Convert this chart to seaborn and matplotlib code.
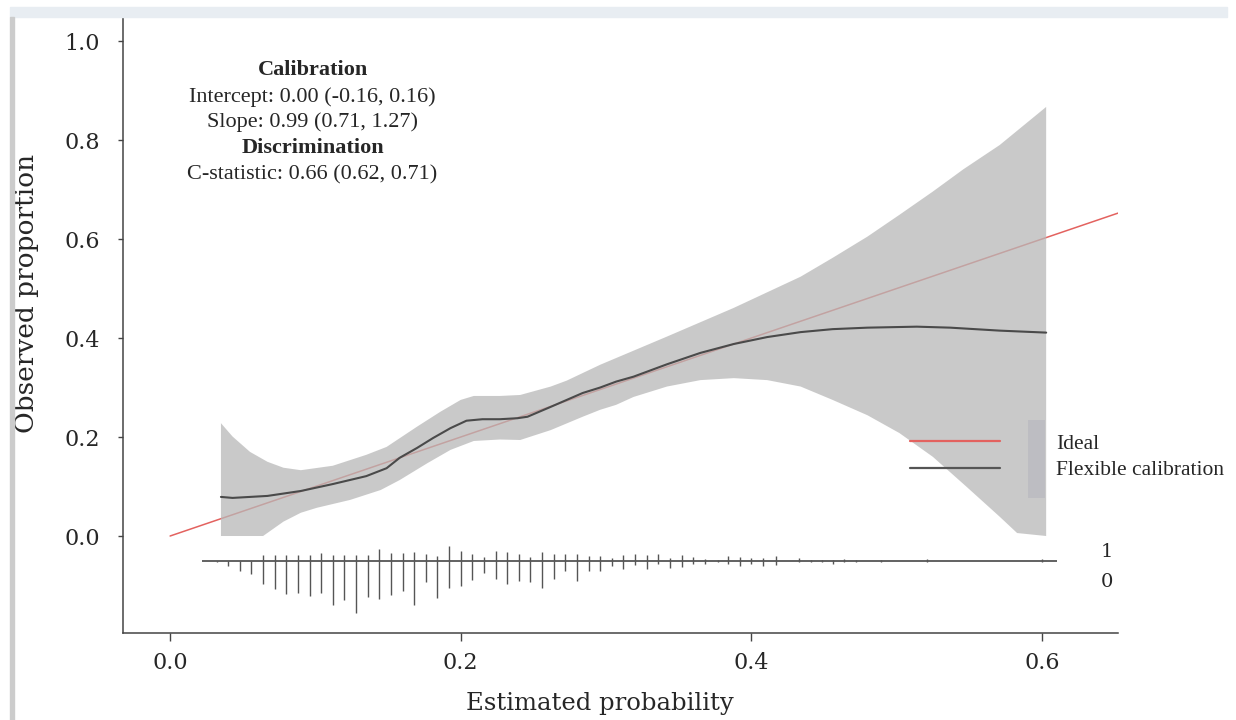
import matplotlib
matplotlib.use("Agg")
import matplotlib.pyplot as plt
import seaborn as sns
from matplotlib.lines import Line2D
from matplotlib.patches import Rectangle

# ideal (diagonal) line
ideal_x = [0.0, 0.66]
ideal_y = [0.0, 0.66]

# flexible calibration curve
curve_x = [0.035, 0.043, 0.067, 0.090, 0.112, 0.135, 0.149, 0.158, 0.170, 0.181,
           0.193, 0.204, 0.215, 0.227, 0.239, 0.246, 0.262, 0.284, 0.296, 0.307,
           0.319, 0.342, 0.365, 0.388, 0.411, 0.434, 0.456, 0.480, 0.514, 0.537,
           0.571, 0.603]
curve_y = [0.079, 0.077, 0.081, 0.091, 0.105, 0.121, 0.137, 0.158, 0.178, 0.198,
           0.218, 0.233, 0.236, 0.236, 0.238, 0.241, 0.261, 0.289, 0.300, 0.312,
           0.322, 0.347, 0.370, 0.388, 0.402, 0.412, 0.418, 0.421, 0.423, 0.421,
           0.415, 0.411]

# confidence band
band_upper_x = [0.035, 0.043, 0.055, 0.067, 0.078, 0.090, 0.112, 0.135, 0.149, 0.170,
                0.186, 0.200, 0.209, 0.227, 0.241, 0.262, 0.273, 0.296, 0.342, 0.388,
                0.434, 0.456, 0.480, 0.502, 0.525, 0.546, 0.571, 0.603]
band_upper_y = [0.228, 0.201, 0.170, 0.150, 0.138, 0.133, 0.142, 0.164, 0.180, 0.221,
                0.251, 0.275, 0.283, 0.283, 0.285, 0.302, 0.314, 0.346, 0.403, 0.461,
                0.524, 0.562, 0.605, 0.649, 0.696, 0.741, 0.790, 0.867]
band_lower_x = [0.035, 0.064, 0.078, 0.090, 0.101, 0.124, 0.145, 0.158, 0.177, 0.193,
                0.209, 0.227, 0.241, 0.262, 0.284, 0.296, 0.307, 0.319, 0.342, 0.365,
                0.388, 0.411, 0.434, 0.456, 0.480, 0.502, 0.525, 0.548, 0.571, 0.583,
                0.603]
band_lower_y = [0.000, 0.000, 0.029, 0.047, 0.057, 0.073, 0.093, 0.113, 0.147, 0.174,
                0.192, 0.195, 0.194, 0.214, 0.241, 0.255, 0.265, 0.281, 0.302, 0.315,
                0.319, 0.315, 0.302, 0.275, 0.244, 0.208, 0.160, 0.100, 0.039, 0.006,
                0.000]

# distribution of predictions: spikes up for events (1), down for non-events (0)
rug_x = [0.032, 0.040, 0.048, 0.056, 0.064, 0.072, 0.080, 0.088, 0.096, 0.104,
         0.112, 0.120, 0.128, 0.136, 0.144, 0.152, 0.160, 0.168, 0.176, 0.184,
         0.192, 0.200, 0.208, 0.216, 0.224, 0.232, 0.240, 0.248, 0.256, 0.264,
         0.272, 0.280, 0.288, 0.296, 0.304, 0.312, 0.320, 0.328, 0.336, 0.344,
         0.352, 0.360, 0.368, 0.377, 0.384, 0.392, 0.400, 0.408, 0.417, 0.433,
         0.441, 0.449, 0.456, 0.464, 0.472, 0.489, 0.521, 0.600]
rug_up = [0.000, 0.000, 0.000, 0.000, 0.012, 0.012, 0.011, 0.011, 0.012, 0.016,
          0.012, 0.012, 0.012, 0.011, 0.023, 0.016, 0.016, 0.018, 0.014, 0.009,
          0.030, 0.020, 0.014, 0.007, 0.020, 0.018, 0.014, 0.007, 0.018, 0.014,
          0.014, 0.014, 0.009, 0.009, 0.006, 0.011, 0.014, 0.012, 0.014, 0.006,
          0.011, 0.007, 0.004, 0.002, 0.009, 0.008, 0.006, 0.005, 0.009, 0.006,
          0.002, 0.002, 0.002, 0.004, 0.002, 0.002, 0.004, 0.004]
rug_down = [0.002, 0.011, 0.020, 0.027, 0.046, 0.057, 0.067, 0.066, 0.072, 0.065,
            0.089, 0.079, 0.105, 0.074, 0.077, 0.069, 0.062, 0.089, 0.043, 0.076,
            0.055, 0.051, 0.039, 0.025, 0.037, 0.046, 0.040, 0.043, 0.055, 0.037,
            0.020, 0.040, 0.020, 0.021, 0.011, 0.016, 0.009, 0.016, 0.007, 0.014,
            0.013, 0.006, 0.006, 0.002, 0.006, 0.011, 0.006, 0.010, 0.008, 0.002,
            0.002, 0.003, 0.006, 0.003, 0.002, 0.002, 0.003, 0.003]
rug_base = -0.05
rug_span = [0.022, 0.6105]

x_ticks = [0.0, 0.2, 0.4, 0.6]
y_ticks = [0.0, 0.2, 0.4, 0.6, 0.8, 1.0]

stats_lines = [
    ("Calibration", "bold"),
    ("Intercept: 0.00 (-0.16, 0.16)", "normal"),
    ("Slope: 0.99 (0.71, 1.27)", "normal"),
    ("Discrimination", "bold"),
    ("C-statistic: 0.66 (0.62, 0.71)", "normal"),
]
legend_labels = ["Ideal", "Flexible calibration"]

RED = "#e3625f"
DARK = "#4a4a4a"
SERIF_T = ["Liberation Serif", "DejaVu Serif"]
SERIF_D = ["DejaVu Serif"]


def main():
    sns.set_style("ticks")
    plt.rcParams["font.family"] = SERIF_T

    fig = plt.figure(figsize=(12.36, 7.2), dpi=100)
    ax = fig.add_axes([0.0993, 0.1215, 0.8053, 0.8544])

    # screenshot frame bits
    fig.patches.append(Rectangle((10 / 1236, 703 / 720), 1217 / 1236, 10 / 720,
                                 transform=fig.transFigure, color="#e8edf2", zorder=0))
    fig.patches.append(Rectangle((10 / 1236, 0), 4 / 1236, 703 / 720,
                                 transform=fig.transFigure, color="#cccccc", zorder=0))

    sns.lineplot(x=ideal_x, y=ideal_y, ax=ax, color=RED, linewidth=1.1, zorder=1)
    ax.fill(band_upper_x + band_lower_x[::-1], band_upper_y + band_lower_y[::-1],
            color="#b8b8b8", alpha=0.75, linewidth=0, zorder=2)
    ax.add_patch(Rectangle((0.9096, 0.2187), 0.0171, 0.1268, transform=ax.transAxes,
                           color="#bdbdc2", linewidth=0, zorder=2.5))
    sns.lineplot(x=curve_x, y=curve_y, ax=ax, color=DARK, linewidth=1.5, zorder=3)

    ax.hlines(rug_base, rug_span[0], rug_span[1], color="#555555", linewidth=1.3, zorder=3)
    ax.vlines(rug_x, rug_base, [rug_base + u for u in rug_up], color="#555555",
              linewidth=1.0, zorder=3)
    ax.vlines(rug_x, [rug_base - d for d in rug_down], rug_base, color="#555555",
              linewidth=1.0, zorder=3)
    ax.text(0.645, -0.032, "1", ha="center", va="center", fontsize=14, family=SERIF_D)
    ax.text(0.645, -0.092, "0", ha="center", va="center", fontsize=14, family=SERIF_D)

    ys = [0.9146, 0.8711, 0.8289, 0.7873, 0.7439]
    for (txt, weight), yy in zip(stats_lines, ys):
        ax.text(0.1907, yy, txt, transform=ax.transAxes, ha="center", va="center",
                fontsize=16, fontweight=weight)

    handles = [Line2D([], [], color=RED, linewidth=1.6),
               Line2D([], [], color="#555555", linewidth=1.6)]
    ax.legend(handles, legend_labels, loc="center left", bbox_to_anchor=(0.791, 0.285),
              bbox_transform=ax.transAxes, frameon=False, fontsize=15.5,
              handlelength=4.2, handletextpad=2.6, labelspacing=0.3,
              borderpad=0, borderaxespad=0)

    ax.set_xlim(-0.0326, 0.6525)
    ax.set_ylim(-0.195, 1.048)
    ax.set_xticks(x_ticks)
    ax.set_xticklabels([f"{v:.1f}" for v in x_ticks], family=SERIF_D, fontsize=16)
    ax.set_yticks(y_ticks)
    ax.set_yticklabels([f"{v:.1f}" for v in y_ticks], family=SERIF_D, fontsize=16)
    ax.tick_params(axis="y", direction="out", length=3.6, width=1, color="#444444", pad=13)
    ax.tick_params(axis="x", direction="out", length=5.8, width=1, color="#444444", pad=8)

    for side in ["left", "top", "bottom"]:
        ax.spines[side].set_color("#444444")
        ax.spines[side].set_linewidth(1.1)
    ax.spines["right"].set_visible(False)

    ax.text(-0.097, 0.552, "Observed proportion", transform=ax.transAxes, rotation=90,
            ha="center", va="center", fontsize=19, family=SERIF_D)
    ax.text(0.4796, -0.1146, "Estimated probability", transform=ax.transAxes,
            ha="center", va="center", fontsize=17.5, family=SERIF_D)

    fig.savefig("out.png", dpi=100)
    plt.close(fig)


if __name__ == "__main__":
    main()
